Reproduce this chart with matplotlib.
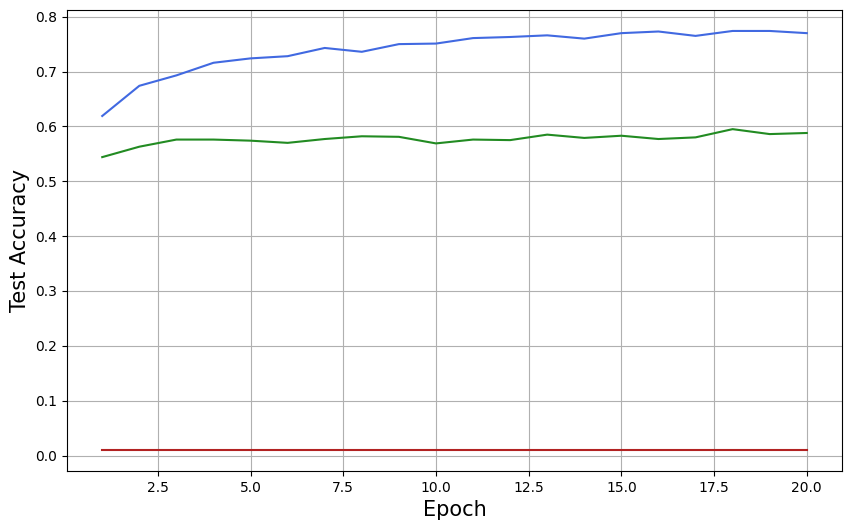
import numpy as np
import matplotlib.pyplot as plt

# Test accuracy per epoch.
epochs = np.arange(1, 21)
acc_blue = [0.619, 0.674, 0.693, 0.716, 0.724, 0.728, 0.743, 0.736, 0.750, 0.751,
            0.761, 0.763, 0.766, 0.760, 0.770, 0.773, 0.765, 0.774, 0.774, 0.770]
acc_green = [0.544, 0.563, 0.576, 0.576, 0.574, 0.570, 0.577, 0.582, 0.581, 0.569,
             0.576, 0.575, 0.585, 0.579, 0.583, 0.577, 0.580, 0.595, 0.586, 0.588]
acc_red = [0.01] * 20

fig = plt.figure(figsize=(8.52, 5.31), dpi=100)
ax = fig.add_axes([67 / 852, 1 - 471 / 531, (842 - 67) / 852, (471 - 10) / 531])

ax.plot(epochs, acc_blue, color="royalblue")
ax.plot(epochs, acc_green, color="forestgreen")
ax.plot(epochs, acc_red, color="firebrick")

ax.set_xlabel("Epoch", fontsize=15)
ax.set_ylabel("Test Accuracy", fontsize=15)
ax.grid(True)

fig.savefig("out.png", dpi=100)
